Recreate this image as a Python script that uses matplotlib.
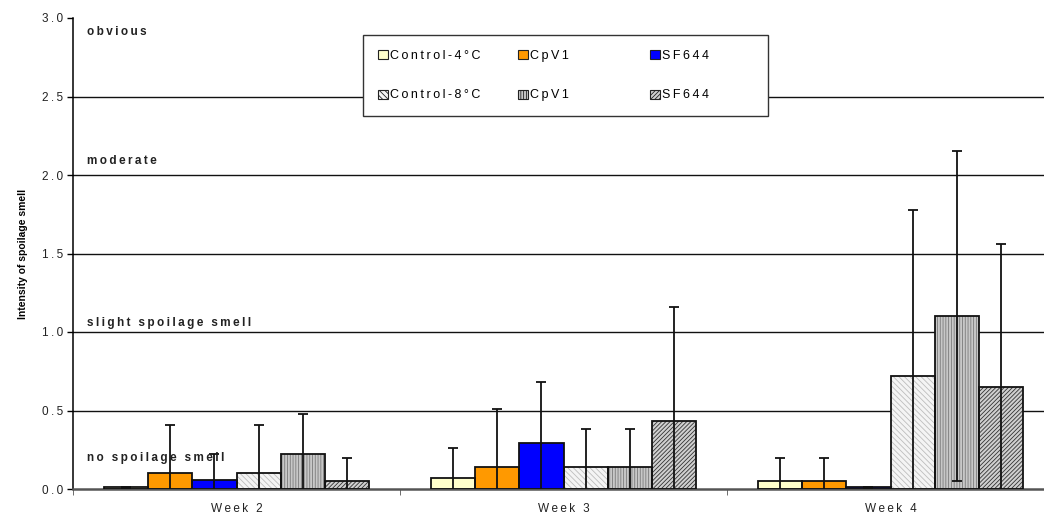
import numpy as np
import matplotlib
matplotlib.use("Agg")
from matplotlib import pyplot as plt
from matplotlib.patches import Patch

plt.rcParams['font.family'] = ['Liberation Sans', 'DejaVu Sans']
plt.rcParams['hatch.linewidth'] = 0.6

# mean scores and standard deviations per week
weeks = ["Week 2", "Week 3", "Week 4"]
series = ["Control-4°C", "CpV1", "SF644", "Control-8°C", "CpV1", "SF644"]
means = [
    [0.01, 0.10, 0.06, 0.10, 0.22, 0.05],   # week 2
    [0.07, 0.14, 0.29, 0.14, 0.14, 0.43],   # week 3
    [0.05, 0.05, 0.01, 0.72, 1.10, 0.65],   # week 4
]
sds = [
    [0.005, 0.31, 0.16, 0.31, 0.26, 0.15],
    [0.19, 0.37, 0.39, 0.24, 0.24, 0.73],
    [0.15, 0.15, 0.005, 1.06, 1.05, 0.91],
]
levels = [(2.91, "obvious"), (2.09, "moderate"), (1.06, "slight spoilage smell"), (0.20, "no spoilage smell")]

# bar fill, hatch and hatch colour for each series
faces = ["#ffffcc", "#ff9900", "#0000ff", "#f4f4f4", "#c8c8c8", "#d0d0d0"]
hatches = [None, None, None, "\\" * 6, "|" * 6, "/" * 8]
hatch_cols = ["k", "k", "k", "#bdbdbd", "#7a7a7a", "#333333"]


def spaced(s):
    # wide tracking like the old spreadsheet fonts
    return "\u2009".join(s)


fig = plt.figure(figsize=(10.44, 5.15), dpi=100)
ax = fig.add_axes([73 / 1044, 26 / 515, 981 / 1044, 471 / 515])

means = np.array(means)
sds = np.array(sds)
x = np.arange(len(weeks))
w = 0.1346
for j in range(len(series)):
    xs = x + (j - 2.5) * w
    # hatch drawn with its own colour, black outline drawn on top
    ax.bar(xs, means[:, j], width=w, color=faces[j], hatch=hatches[j],
           edgecolor=hatch_cols[j], linewidth=0, zorder=2)
    ax.bar(xs, means[:, j], width=w, fill=False, edgecolor="#111111",
           linewidth=1.3, zorder=3)
    ax.errorbar(xs, means[:, j], yerr=sds[:, j], fmt="none", ecolor="#111111",
                elinewidth=1.3, capsize=3.5, capthick=1.3, zorder=4)

ax.set_ylim(0, 3.0)
ax.set_xlim(-0.5, 2.5)
ax.set_yticks(np.arange(0, 3.01, 0.5))
ax.set_yticklabels([spaced(f"{v:.1f}") for v in np.arange(0, 3.01, 0.5)], fontsize=8.5, color="#222222")
for v in np.arange(0.5, 2.6, 0.5):
    ax.axhline(v, color="#111111", linewidth=1.0, zorder=1)

ax.set_xticks(x)
ax.set_xticklabels([spaced(wk) for wk in weeks], fontsize=8.5, color="#222222")
ax.tick_params(axis="x", length=0, pad=10)
ax.set_xticks([-0.5, 0.5, 1.5, 2.5], minor=True)
ax.tick_params(axis="x", which="minor", length=4, direction="out", color="#555555")
ax.tick_params(axis="y", length=4, direction="out", width=1, pad=3)

for side in ["top", "right"]:
    ax.spines[side].set_visible(False)
ax.spines["left"].set_linewidth(1.1)
ax.spines["bottom"].set_color("#555555")
ax.spines["bottom"].set_linewidth(1.8)

ax.set_ylabel("Intensity of spoilage smell", fontsize=7.5, fontweight="bold", labelpad=10)

for y, txt in levels:
    ax.text(0.014, y, spaced(txt), transform=ax.get_yaxis_transform(), fontsize=8.5,
            fontweight="bold", va="center", ha="left", color="#222222", zorder=5)

# legend: two rows (4°C and 8°C), three columns
handles = [Patch(facecolor=faces[j], hatch=hatches[j], edgecolor="#222222", linewidth=0.8)
           for j in range(len(series))]
order = [0, 3, 1, 4, 2, 5]
pad = {"CpV1": "\u2003" * 3 + "\u2002", "SF644": "\u2003" * 3 + "\u2002"}
labels = [spaced(series[i]) + pad.get(series[i], "") for i in order]
leg = ax.legend([handles[i] for i in order], labels,
                ncol=3, loc="upper left", bbox_to_anchor=(0.296, 0.964), fontsize=9,
                frameon=True, fancybox=False, edgecolor="#333333", framealpha=1,
                handlelength=0.75, handleheight=0.75, handletextpad=0.2,
                columnspacing=3.0, labelspacing=2.2, borderpad=1.2, borderaxespad=0)
leg.get_frame().set_linewidth(1.0)
leg.set_zorder(6)

fig.savefig("out.png", dpi=100)
